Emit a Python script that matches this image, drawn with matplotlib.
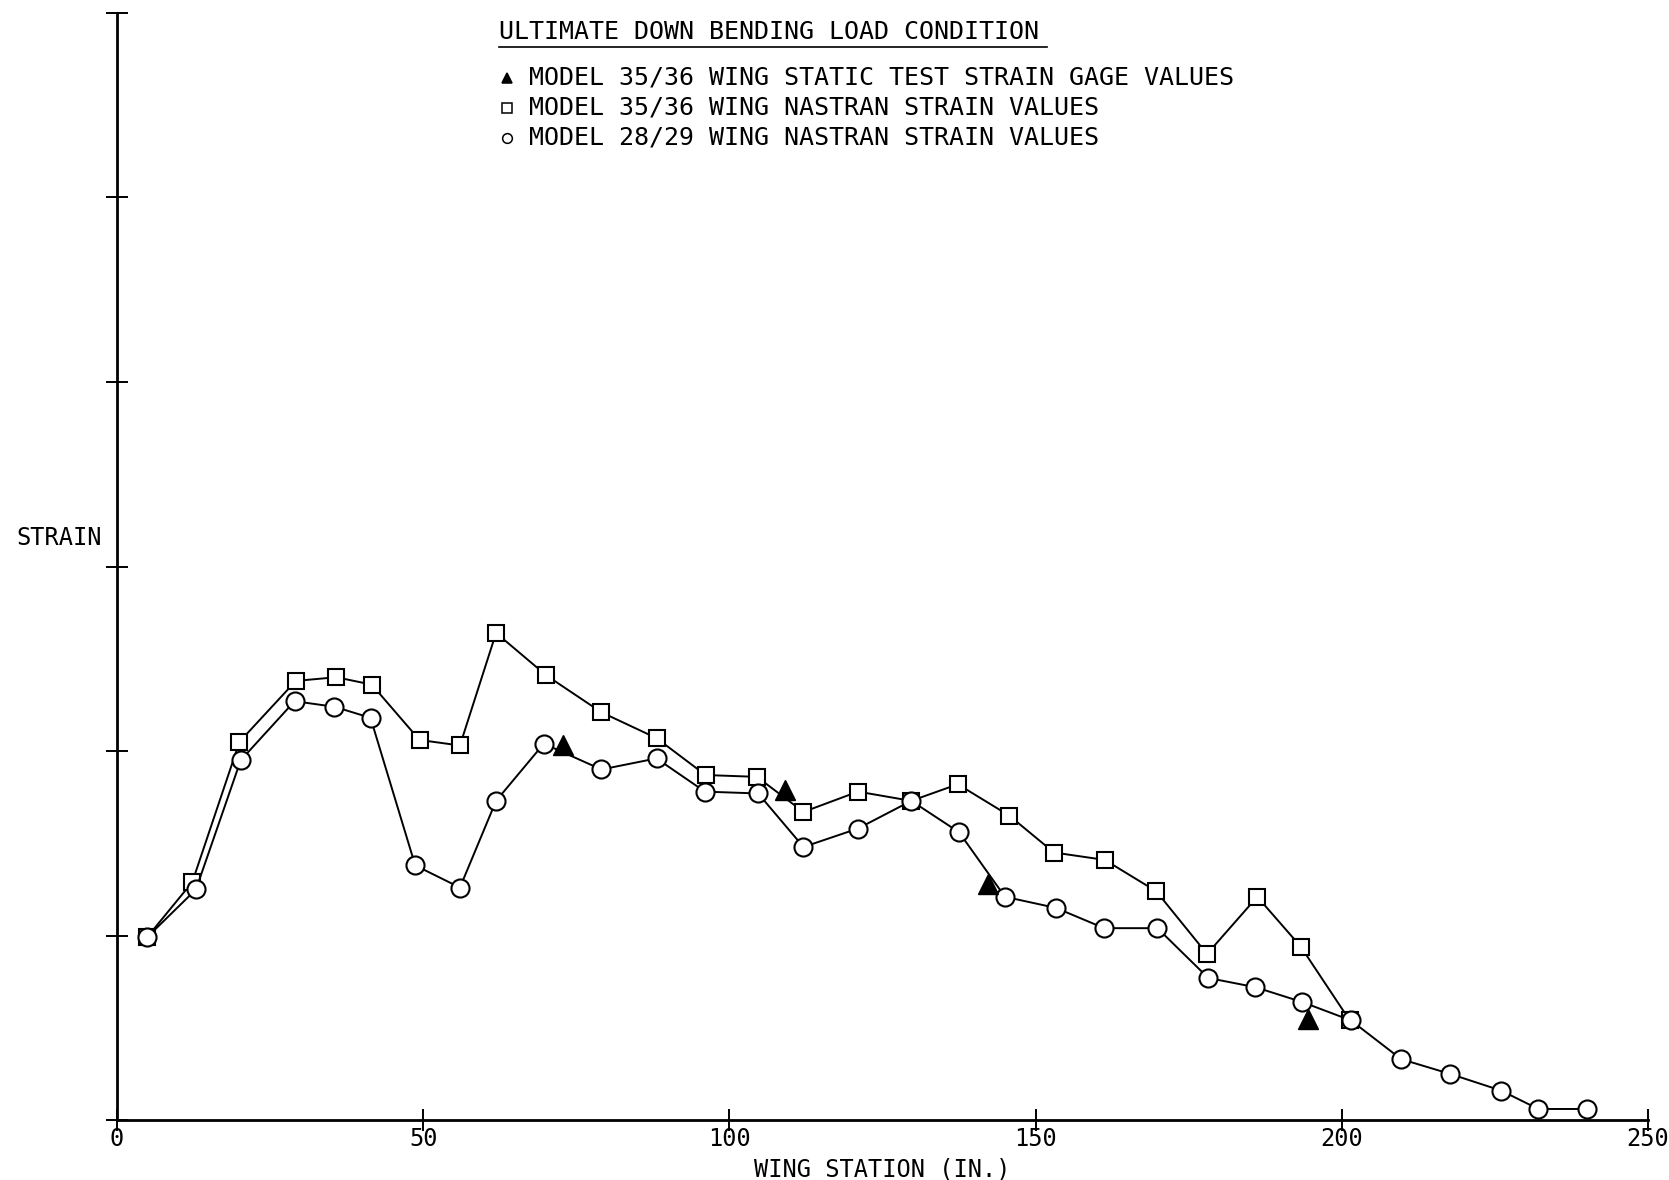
import matplotlib
matplotlib.use("Agg")
import matplotlib.pyplot as plt

# wing station (in.) and strain (relative units, one per y tick)
sq_station = [4.9, 12.3, 20.0, 29.2, 35.8, 41.6, 49.4, 56.0, 61.9, 70.1, 79.1, 88.1, 96.1,
              104.5, 112.1, 121.0, 129.7, 137.3, 145.7, 153.0, 161.3, 169.7, 178.0, 186.2,
              193.3, 201.3]
sq_strain = [0.99, 1.29, 2.05, 2.38, 2.40, 2.36, 2.06, 2.03, 2.64, 2.41, 2.21, 2.07, 1.87,
             1.86, 1.67, 1.78, 1.73, 1.82, 1.65, 1.45, 1.41, 1.24, 0.90, 1.21, 0.94, 0.54]

ci_station = [4.9, 12.9, 20.2, 29.0, 35.5, 41.4, 48.7, 56.0, 61.9, 69.7, 79.1, 88.1, 96.0,
              104.7, 112.1, 121.0, 129.7, 137.5, 145.0, 153.3, 161.2, 169.9, 178.2, 185.9,
              193.5, 201.5, 209.7, 217.7, 226.0, 232.1, 240.1]
ci_strain = [0.99, 1.25, 1.95, 2.27, 2.24, 2.18, 1.38, 1.26, 1.73, 2.04, 1.90, 1.96, 1.78,
             1.77, 1.48, 1.58, 1.73, 1.56, 1.21, 1.15, 1.04, 1.04, 0.77, 0.72, 0.64, 0.54,
             0.33, 0.25, 0.16, 0.06, 0.06]

tri_station = [72.8, 109.0, 142.2, 194.5]
tri_strain = [2.03, 1.79, 1.28, 0.55]

x_ticks = [0, 50, 100, 150, 200, 250]
y_ticks = [0, 1, 2, 3, 4, 5, 6]

title = "ULTIMATE DOWN BENDING LOAD CONDITION"
labels = [
    "MODEL 35/36 WING STATIC TEST STRAIN GAGE VALUES",
    "MODEL 35/36 WING NASTRAN STRAIN VALUES",
    "MODEL 28/29 WING NASTRAN STRAIN VALUES",
]

plt.rcParams["font.family"] = ["DejaVu Sans Mono"]

fig = plt.figure(figsize=(16.69, 11.80), dpi=100)
ax = fig.add_axes([0.0701, 0.0508, 0.9173, 0.9382])

line_kw = dict(color="black", linewidth=1.4, markerfacecolor="white",
               markeredgecolor="black", markeredgewidth=1.5)
ax.plot(ci_station, ci_strain, marker="o", markersize=13, zorder=3, **line_kw)
ax.plot(sq_station, sq_strain, marker="s", markersize=12, zorder=2, **line_kw)
ax.plot(tri_station, tri_strain, linestyle="none", marker="^", markersize=14,
        color="black", zorder=4)

ax.set_xlim(0, 250)
ax.set_ylim(0, 6)
ax.set_xticks(x_ticks)
ax.set_yticks(y_ticks)
ax.set_yticklabels([])
ax.tick_params(axis="both", direction="inout", length=16, width=1.4, colors="black")
ax.tick_params(axis="x", labelsize=17, pad=-3)
for s in ("top", "right"):
    ax.spines[s].set_visible(False)
for s in ("left", "bottom"):
    ax.spines[s].set_linewidth(2.0)

ax.set_xlabel("WING STATION (IN.)", fontsize=17, labelpad=5)
ax.set_ylabel("STRAIN", fontsize=17, rotation=0, ha="right", va="center")
ax.yaxis.set_label_coords(-0.010, 0.526)

# legend block at top
tx, ty = 0.2495, 0.983
ax.text(tx, ty, title, transform=ax.transAxes, fontsize=18, ha="left", va="center")
ax.plot([tx, 0.6076], [ty - 0.014, ty - 0.014], transform=ax.transAxes,
        color="black", linewidth=1.2, clip_on=False)
row_y = [0.9415, 0.9145, 0.8875]
row_marker = [dict(marker="^", markerfacecolor="black"),
              dict(marker="s", markerfacecolor="white"),
              dict(marker="o", markerfacecolor="white")]
for yy, lab, mk in zip(row_y, labels, row_marker):
    ax.plot([0.2545], [yy], transform=ax.transAxes, linestyle="none", markersize=7,
            markeredgecolor="black", markeredgewidth=1.1, clip_on=False, **mk)
    ax.text(0.2690, yy, lab, transform=ax.transAxes, fontsize=18, ha="left", va="center")

fig.savefig("out.png", dpi=100)
